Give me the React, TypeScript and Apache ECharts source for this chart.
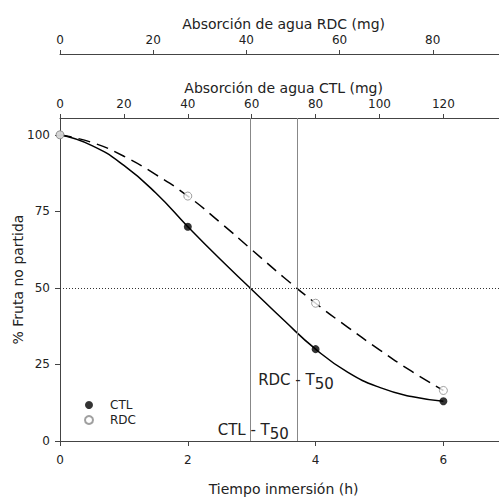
import React, { useEffect, useRef } from "react";
import * as echarts from "echarts";

// ---- measured points ----
const hours = [0, 2, 4, 6];
const ctlValues = [100, 70, 30, 13];
const rdcValues = [100, 80, 45, 16.5];

// ---- fitted curves at 0.5 h steps ----
const fitHours = [0, 0.5, 1, 1.5, 2, 2.5, 3, 3.5, 4, 4.5, 5, 5.5, 6];
const ctlFit = [100, 96.5, 90, 81, 70, 59.5, 49.5, 39.5, 30, 22.5, 17.5, 14.5, 13];
const rdcFit = [100, 97.5, 93, 87, 80, 71.5, 62.5, 53.5, 45, 37.2, 29.8, 22.8, 16.5];

// ---- reference levels ----
const t50Ctl = 2.97;
const t50Rdc = 3.72;
const halfLevel = 50;

// ---- tick values ----
const timeTicks = [0, 2, 4, 6];
const pctTicks = [0, 25, 50, 75, 100];
const ctlMgTicks = [0, 20, 40, 60, 80, 100, 120];
const rdcMgTicks = [0, 20, 40, 60, 80];

const FONT = "DejaVu Sans";
const TEXT = "#222";
const AXIS = "#444";

export default function App() {
  const ref = useRef<HTMLDivElement>(null);

  useEffect(() => {
    if (!ref.current) return;
    const chart = echarts.init(ref.current, undefined, { renderer: "svg" });

    const zip = (xs: number[], ys: number[]) => xs.map((x, i) => [x, ys[i]]);

    const axisLine = { show: true, onZero: false, lineStyle: { color: AXIS, width: 1 } };
    const labelStyle = { color: TEXT, fontSize: 12, fontFamily: FONT };
    const nameStyle = { color: TEXT, fontSize: 14, fontFamily: FONT };

    const option: any = {
      animation: false,
      backgroundColor: "#fff",
      grid: { left: 60, top: 118, width: 447.3, height: 323, outerBoundsMode: "none" },
      legend: {
        data: [
          { name: "CTL", icon: "circle" },
          { name: "RDC", icon: "circle" },
        ],
        orient: "vertical",
        left: 79,
        top: 394,
        itemWidth: 8,
        itemHeight: 8,
        itemGap: 3,
        selectedMode: false,
        textStyle: { ...labelStyle, fontSize: 12, padding: [0, 0, 0, 12] },
      },
      xAxis: [
        {
          type: "value",
          position: "bottom",
          min: 0,
          max: 7,
          axisLine,
          splitLine: { show: false },
          axisTick: { show: true, length: 5, customValues: timeTicks, lineStyle: { color: AXIS } },
          axisLabel: { ...labelStyle, margin: 13, customValues: timeTicks },
          name: "Tiempo inmersión (h)",
          nameLocation: "middle",
          nameGap: 41,
          nameMoveOverlap: false,
          nameTextStyle: nameStyle,
        },
        {
          type: "value",
          position: "top",
          min: 0,
          max: 140,
          axisLine,
          splitLine: { show: false },
          axisTick: { show: true, length: 4, customValues: ctlMgTicks, lineStyle: { color: AXIS } },
          axisLabel: { ...labelStyle, margin: 8, customValues: ctlMgTicks },
          name: "Absorción de agua CTL (mg)",
          nameLocation: "middle",
          nameGap: 23,
          nameMoveOverlap: false,
          nameTextStyle: nameStyle,
        },
        {
          type: "value",
          position: "top",
          offset: 64,
          min: 0,
          max: 96,
          axisLine,
          splitLine: { show: false },
          axisTick: { show: true, length: 4, customValues: rdcMgTicks, lineStyle: { color: AXIS } },
          axisLabel: { ...labelStyle, margin: 8, customValues: rdcMgTicks },
          name: "Absorción de agua RDC (mg)",
          nameLocation: "middle",
          nameGap: 23,
          nameMoveOverlap: false,
          nameTextStyle: nameStyle,
        },
      ],
      yAxis: {
        type: "value",
        min: 0,
        max: 105.5,
        axisLine,
        splitLine: { show: false },
        axisTick: { show: true, length: 5, customValues: pctTicks, lineStyle: { color: AXIS } },
        axisLabel: { ...labelStyle, margin: 10, customValues: pctTicks },
        name: "% Fruta no partida",
        nameLocation: "middle",
        nameGap: 35,
        nameMoveOverlap: false,
        nameTextStyle: nameStyle,
      },
      series: [
        {
          name: "CTL ajuste",
          type: "line",
          xAxisIndex: 0,
          yAxisIndex: 0,
          data: zip(fitHours, ctlFit),
          smooth: 0.5,
          showSymbol: false,
          symbol: "none",
          lineStyle: { color: "#000", width: 1.5 },
          z: 2,
          markLine: {
            silent: true,
            symbol: "none",
            label: { show: false },
            lineStyle: { color: "#888", type: "solid", width: 1 },
            data: [
              { xAxis: t50Ctl },
              { xAxis: t50Rdc },
              { yAxis: halfLevel, lineStyle: { color: "#333", type: [1, 2], width: 1 } },
            ],
          },
        },
        {
          name: "RDC ajuste",
          type: "line",
          xAxisIndex: 0,
          yAxisIndex: 0,
          data: zip(fitHours, rdcFit),
          smooth: 0.5,
          showSymbol: false,
          symbol: "none",
          lineStyle: { color: "#000", width: 1.5, type: [12, 7] },
          z: 2,
        },
        {
          name: "CTL",
          type: "scatter",
          xAxisIndex: 0,
          yAxisIndex: 0,
          data: zip(hours, ctlValues),
          symbol: "circle",
          symbolSize: 8,
          itemStyle: { color: "#000" },
          z: 3,
        },
        {
          name: "RDC",
          type: "scatter",
          xAxisIndex: 0,
          yAxisIndex: 0,
          data: zip(hours, rdcValues),
          symbol: "circle",
          symbolSize: 8,
          itemStyle: { color: "#fff", borderColor: "#888", borderWidth: 1 },
          z: 4,
        },
      ],
    };

    chart.setOption(option);

    const pC = chart.convertToPixel({ xAxisIndex: 0, yAxisIndex: 0 }, [t50Ctl, 0]) as number[];
    const pR = chart.convertToPixel({ xAxisIndex: 0, yAxisIndex: 0 }, [t50Rdc, 0]) as number[];
    const txt = (x: number, y: number, text: string, align: string) => ({
      type: "text",
      x,
      y,
      z: 100,
      style: { text, fill: TEXT, fontSize: 15, fontFamily: FONT, align, verticalAlign: "middle" },
    });
    chart.setOption({
      graphic: [
        txt(pC[0] + 20, pC[1] - 11, "CTL - T", "right"),
        txt(pC[0] + 20, pC[1] - 7, "50", "left"),
        txt(pR[0] + 17, pR[1] - 61, "RDC - T", "right"),
        txt(pR[0] + 17, pR[1] - 57, "50", "left"),
      ],
    });

    return () => chart.dispose();
  }, []);

  return (
    <div
      style={{
        position: "fixed",
        left: 0,
        top: 0,
        width: 499,
        height: 498,
        overflow: "hidden",
        background: "#fff",
      }}
    >
      <div ref={ref} style={{ width: 520, height: 498 }} />
    </div>
  );
}
